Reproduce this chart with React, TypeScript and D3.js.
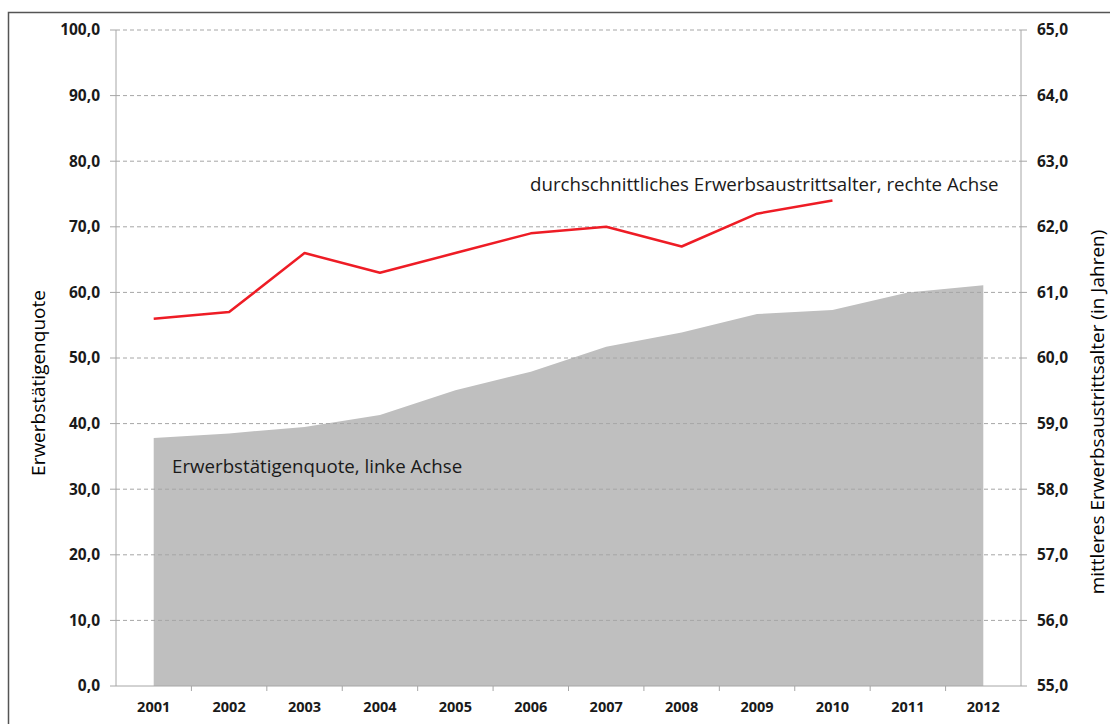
import React from 'react';
import * as d3 from 'd3';

const years = ['2001', '2002', '2003', '2004', '2005', '2006', '2007', '2008', '2009', '2010', '2011', '2012'];
// Erwerbstätigenquote (linke Achse)
const quote = [37.8, 38.5, 39.5, 41.3, 45.1, 47.9, 51.7, 53.9, 56.7, 57.3, 60.0, 61.1];
// durchschnittliches Erwerbsaustrittsalter (rechte Achse), 2001-2010
const alterYears = ['2001', '2002', '2003', '2004', '2005', '2006', '2007', '2008', '2009', '2010'];
const alter = [60.6, 60.7, 61.6, 61.3, 61.6, 61.9, 62.0, 61.7, 62.2, 62.4];
const leftTicks = [0, 10, 20, 30, 40, 50, 60, 70, 80, 90, 100];
const rightTicks = [55, 56, 57, 58, 59, 60, 61, 62, 63, 64, 65];

const W = 1110;
const H = 724;
const m = { left: 116, right: 1021, top: 30, bottom: 686 };
const font = "'Open Sans', sans-serif";
const fmt = (v: number) => v.toFixed(1).replace('.', ',');

const App = () => {
  const x = d3.scaleBand().domain(years).range([m.left, m.right]);
  const cx = (d: string) => (x(d) as number) + x.bandwidth() / 2;
  const yL = d3.scaleLinear().domain([0, 100]).range([m.bottom, m.top]);
  const yR = d3.scaleLinear().domain([55, 65]).range([m.bottom, m.top]);

  const area = d3
    .area<number>()
    .x((_, i) => cx(years[i]))
    .y0(yL(0))
    .y1(d => yL(d));
  const line = d3
    .line<number>()
    .x((_, i) => cx(alterYears[i]))
    .y(d => yR(d));

  return (
    <div style={{ position: 'absolute', left: 0, top: 0, background: '#fff' }}>
      <svg width={W} height={H} style={{ display: 'block', fontFamily: font }}>
        <rect x={8.5} y={12.5} width={W + 10} height={H + 10} fill="#fff" stroke="#555" strokeWidth={1.5} />

        <path d={area(quote) || ''} fill="#bfbfbf" />

        {leftTicks.map(t => (
          <g key={t}>
            {t > 0 && (
              <line x1={m.left} x2={m.right} y1={yL(t)} y2={yL(t)} stroke="#a6a6a6" strokeDasharray="4,3" />
            )}
            <line x1={m.left - 6} x2={m.left} y1={yL(t)} y2={yL(t)} stroke="#a6a6a6" />
            <text x={100} y={yL(t)} dy="0.35em" textAnchor="end" fontSize={15.5} fontWeight="bold" fill="#1a1a1a">
              {fmt(t)}
            </text>
          </g>
        ))}
        {rightTicks.map(t => (
          <g key={t}>
            <line x1={m.right} x2={m.right + 6} y1={yR(t)} y2={yR(t)} stroke="#a6a6a6" />
            <text x={1037} y={yR(t)} dy="0.35em" textAnchor="start" fontSize={15.5} fontWeight="bold" fill="#1a1a1a">
              {fmt(t)}
            </text>
          </g>
        ))}

        <line x1={m.left} x2={m.left} y1={m.top} y2={m.bottom} stroke="#a6a6a6" />
        <line x1={m.right} x2={m.right} y1={m.top} y2={m.bottom} stroke="#a6a6a6" />
        <line x1={m.left} x2={m.right} y1={m.bottom} y2={m.bottom} stroke="#a6a6a6" />
        {years.map((d, i) => (
          <g key={d}>
            {i > 0 && (
              <line x1={x(d)} x2={x(d)} y1={m.bottom} y2={m.bottom + 5} stroke="#a6a6a6" />
            )}
            <text x={cx(d)} y={712} textAnchor="middle" fontSize={14.5} fontWeight="bold" fill="#1a1a1a">
              {d}
            </text>
          </g>
        ))}

        <path d={line(alter) || ''} fill="none" stroke="#ee1c25" strokeWidth={2.5} strokeLinejoin="round" />

        <text x={530} y={191} fontSize={18.7} fill="#1a1a1a">
          durchschnittliches Erwerbsaustrittsalter, rechte Achse
        </text>
        <text x={172} y={473} fontSize={18.7} fill="#1a1a1a">
          Erwerbstätigenquote, linke Achse
        </text>

        <text transform={`translate(45,383) rotate(-90)`} textAnchor="middle" fontSize={19} fill="#000">
          Erwerbstätigenquote
        </text>
        <text transform={`translate(1104,412) rotate(-90)`} textAnchor="middle" fontSize={19} fill="#000">
          mittleres Erwerbsaustrittsalter (in Jahren)
        </text>
      </svg>
    </div>
  );
};

export default App;
